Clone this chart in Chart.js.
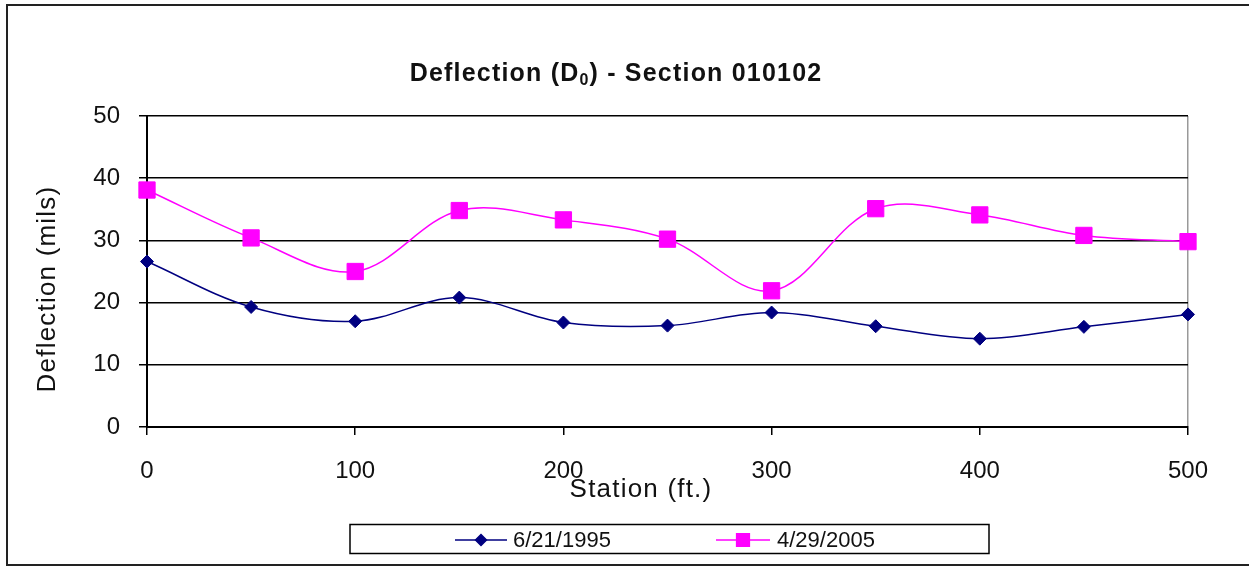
<!DOCTYPE html>
<html>
<head>
<meta charset="utf-8">
<script src="https://cdn.jsdelivr.net/npm/chart.js@4.4.0/dist/chart.umd.min.js"></script>
<style>
html, body { margin:0; padding:0; background:#fff; }
#wrap { position:relative; width:1249px; height:567px; overflow:hidden; background:#fff; }
#frame { position:absolute; left:6px; top:4px; width:1300px; height:558px; border:2px solid #222; }
#title { position:absolute; left:0; top:57px; width:1232px; text-align:center;
         font:bold 25px "Liberation Sans", Arial, sans-serif; letter-spacing:1.2px; color:#111; line-height:30px; }
#title sub { font-size:16px; vertical-align:-4px; line-height:0; }
#chart { position:absolute; left:0; top:0; }
</style>
</head>
<body>
<div id="wrap">
  <div id="frame"></div>
  <canvas id="chart" width="1249" height="567"></canvas>
  <div id="title">Deflection (D<sub>0</sub>) - Section 010102</div>
</div>
<script>
// station (ft.) and deflections (mils)
var stations = [0, 50, 100, 150, 200, 250, 300, 350, 400, 450, 500];
var defl1995 = [26.6, 19.3, 17.0, 20.8, 16.8, 16.3, 18.4, 16.2, 14.2, 16.1, 18.1];
var defl2005 = [38.1, 30.4, 25.0, 34.8, 33.3, 30.2, 21.9, 35.1, 34.1, 30.8, 29.8];
var seriesNames = ['6/21/1995', '4/29/2005'];
var xTitle = 'Station (ft.)';
var yTitle = 'Deflection (mils)';
var xTickStep = 100;
var yTickStep = 10;

var FONT = '"Liberation Sans", Arial, sans-serif';

function toPoints(vals) {
    var pts = [];
    vals.forEach(function (v, i) {
        pts.push({ x: stations[i], y: v });
    });
    return pts;
}

// axis titles (Excel puts them a bit off-centre) and the boxed legend
var excelBits = {
    id: 'excelBits',
    afterDraw: function (chart) {
        var ctx = chart.ctx;
        ctx.save();
        ctx.fillStyle = '#111';
        ctx.font = '26px ' + FONT;
        ctx.textAlign = 'center';
        ctx.textBaseline = 'middle';
        if ('letterSpacing' in ctx) ctx.letterSpacing = '1.2px';
        ctx.fillText(xTitle, 641, 490);
        ctx.save();
        ctx.translate(48, 289);
        ctx.rotate(-Math.PI / 2);
        ctx.fillText(yTitle, 0, 0);
        ctx.restore();
        if ('letterSpacing' in ctx) ctx.letterSpacing = '0px';

        ctx.strokeStyle = '#000';
        ctx.lineWidth = 1.5;
        ctx.strokeRect(350, 524.5, 639, 29);

        var items = [
            { x1: 455, x2: 507, tx: 513, ds: chart.data.datasets[0], r: 5.5 },
            { x1: 716, x2: 770, tx: 777, ds: chart.data.datasets[1], r: 9 }
        ];
        var cy = 540;
        items.forEach(function (it) {
            ctx.strokeStyle = it.ds.borderColor;
            ctx.lineWidth = 1.5;
            ctx.beginPath();
            ctx.moveTo(it.x1, cy);
            ctx.lineTo(it.x2, cy);
            ctx.stroke();
            ctx.fillStyle = it.ds.backgroundColor;
            ctx.strokeStyle = it.ds.borderColor;
            Chart.helpers.drawPoint(ctx, { pointStyle: it.ds.pointStyle, radius: it.r, rotation: 0, borderWidth: 1 }, (it.x1 + it.x2) / 2, cy);
            ctx.fillStyle = '#111';
            ctx.font = '22px ' + FONT;
            ctx.textBaseline = 'middle';
            ctx.textAlign = 'left';
            ctx.fillText(it.ds.label, it.tx, cy + 1);
        });
        ctx.restore();
    }
};

window.addEventListener('load', function () {
    var ctx = document.getElementById('chart').getContext('2d');
    new Chart(ctx, {
        type: 'line',
        data: {
            datasets: [{
                label: seriesNames[0],
                data: toPoints(defl1995),
                borderColor: '#000080',
                backgroundColor: '#000080',
                borderWidth: 1.5,
                pointStyle: 'rectRot',
                pointRadius: 6.5,
                pointBorderWidth: 1,
                tension: 0.35,
                clip: false
            }, {
                label: seriesNames[1],
                data: toPoints(defl2005),
                borderColor: '#FF00FF',
                backgroundColor: '#FF00FF',
                borderWidth: 1.5,
                pointStyle: 'rect',
                pointRadius: 11.5,
                pointBorderWidth: 1,
                tension: 0.35,
                clip: false
            }]
        },
        options: {
            responsive: false,
            animation: false,
            layout: { padding: { left: 32, right: 61, top: 116, bottom: 64 } },
            plugins: {
                legend: { display: false },
                title: { display: false },
                tooltip: { enabled: false }
            },
            scales: {
                x: {
                    type: 'linear',
                    min: 0,
                    max: 500,
                    afterFit: function (s) { s.height = 76; },
                    ticks: {
                        stepSize: xTickStep,
                        color: '#111',
                        padding: 22,
                        maxRotation: 0,
                        font: { family: FONT, size: 24 }
                    },
                    grid: {
                        color: function (c) {
                            return (c.tick && c.tick.value === 500) ? '#999' : 'rgba(0,0,0,0)';
                        },
                        tickColor: '#000',
                        tickLength: 8,
                        lineWidth: 1.5
                    },
                    border: { color: '#000', width: 2 },
                    title: { display: false }
                },
                y: {
                    min: 0,
                    max: 50,
                    afterFit: function (s) { s.width = 115; },
                    ticks: {
                        stepSize: yTickStep,
                        color: '#111',
                        padding: 19,
                        font: { family: FONT, size: 24 }
                    },
                    grid: {
                        color: '#000',
                        tickColor: '#000',
                        tickLength: 8,
                        lineWidth: 1.5
                    },
                    border: { color: '#000', width: 2 },
                    title: { display: false }
                }
            }
        },
        plugins: [excelBits]
    });
});
</script>
</body>
</html>
